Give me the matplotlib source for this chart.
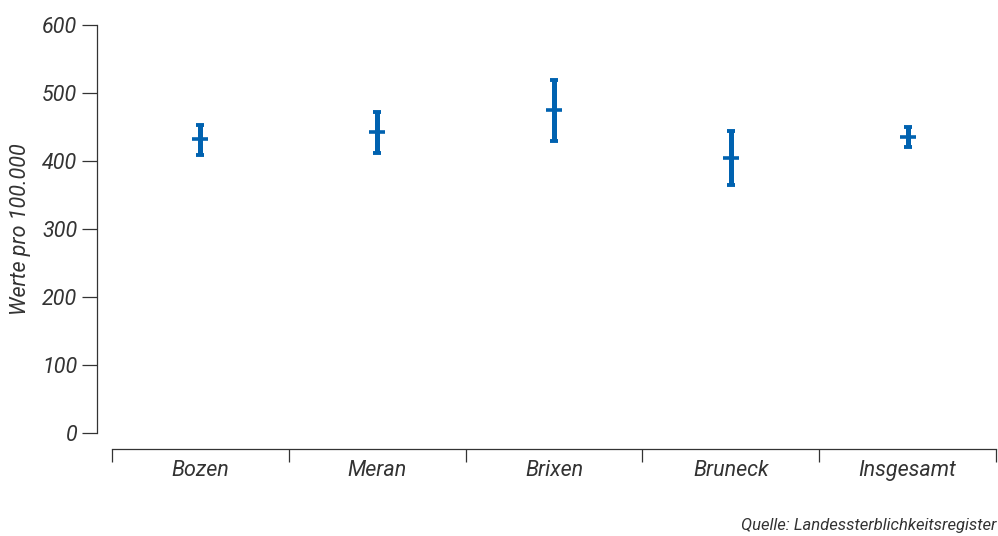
import numpy as np
import matplotlib.pyplot as plt
from matplotlib.ticker import FixedLocator, NullFormatter

# Werte pro 100.000 mit Konfidenzintervall je Bezirk
bezirke = ['Bozen', 'Meran', 'Brixen', 'Bruneck', 'Insgesamt']
wert = [432, 442, 475, 404, 435]
unten = [409, 412, 430, 365, 420]
oben = [453, 472, 519, 444, 450]

blau = '#0062b0'
grau = '#333333'
schrift = ['Roboto', 'DejaVu Sans']

fig = plt.figure(figsize=(9.98, 5.36), dpi=100)
ax = fig.add_axes([0.1122, 0.1922, 0.8858, 0.7612])

x = np.arange(len(bezirke))
wert = np.array(wert)
fehler = np.vstack([wert - np.array(unten), np.array(oben) - wert])

ax.errorbar(x, wert, yerr=fehler, fmt='none', ecolor=blau,
            elinewidth=3.6, capsize=3.0, capthick=2.8, zorder=3)
# Mittelwert als waagrechter Strich
ax.scatter(x, wert, marker='_', s=120, linewidths=2.6, color=blau, zorder=4)

ax.set_xlim(-0.5, len(bezirke) - 0.5)
ax.set_ylim(0, 600)
ax.set_yticks(range(0, 601, 100))

for s in ['top', 'right']:
    ax.spines[s].set_visible(False)
ax.spines['left'].set_position(('outward', 11))
ax.spines['bottom'].set_position(('outward', 11.5))
ax.spines['left'].set_bounds(0, 600)
for s in ['left', 'bottom']:
    ax.spines[s].set_color(grau)
    ax.spines[s].set_linewidth(0.9)

# Trennstriche zwischen den Kategorien, Beschriftung in der Mitte
ax.xaxis.set_major_locator(FixedLocator(np.arange(-0.5, len(bezirke), 1.0)))
ax.xaxis.set_major_formatter(NullFormatter())
ax.xaxis.set_minor_locator(FixedLocator(x))
ax.set_xticklabels(bezirke, minor=True)
ax.tick_params(axis='x', which='major', length=9.5, width=0.9, color=grau,
               direction='out')
ax.tick_params(axis='x', which='minor', length=0, pad=8, labelsize=15.5,
               labelcolor=grau)
ax.tick_params(axis='y', length=11, width=0.9, color=grau, pad=3,
               labelsize=15.5, labelcolor=grau)

for lab in ax.get_xticklabels(minor=True) + ax.get_yticklabels():
    lab.set_fontstyle('italic')
    lab.set_family(schrift)

ax.set_ylabel('Werte pro 100.000', fontsize=15.5, color=grau, style='italic',
              family=schrift, labelpad=8)

fig.text(0.998, 0.006, 'Quelle: Landessterblichkeitsregister', ha='right',
         va='bottom', fontsize=12, color=grau, style='italic', family=schrift)

fig.savefig('out.png', dpi=100)
